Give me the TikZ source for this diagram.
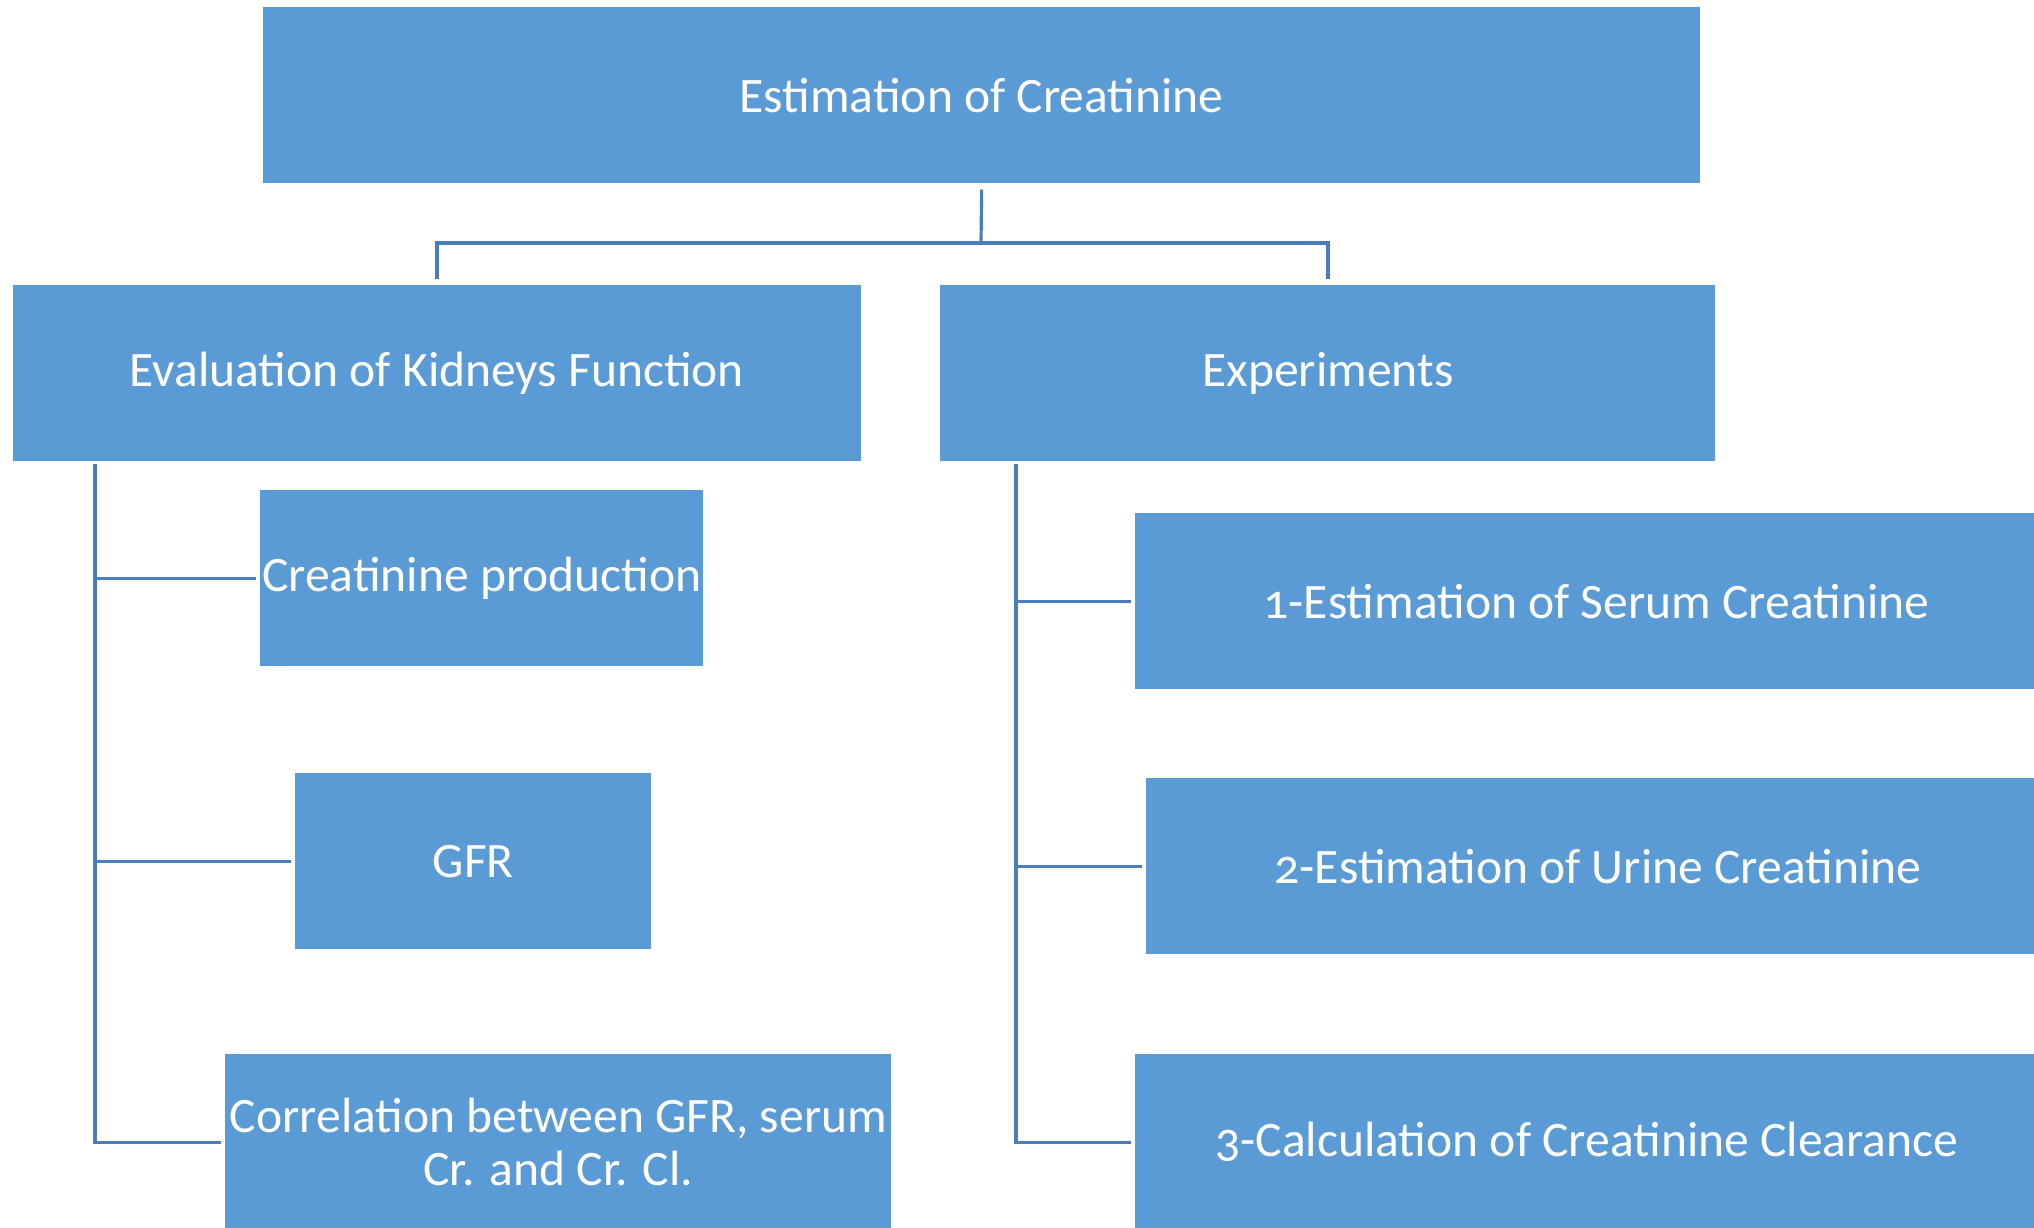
\documentclass[tikz,border=0pt]{standalone}
\usepackage{fontspec}
\setmainfont{Carlito}[Numbers=OldStyle]
\usetikzlibrary{positioning, calc}
\definecolor{boxblue}{HTML}{5B9BD5}
\definecolor{lineblue}{HTML}{4A7EBB}
\tikzset{
  topic/.style={
    rectangle,
    fill=boxblue,
    draw=white, line width=0.4pt,
    text=white,
    align=center,
    anchor=north west,
    minimum height=1.77cm,
    inner sep=0pt,
    font=\fontsize{14.1}{15}\selectfont
  },
  link/.style={
    draw=lineblue,
    line width=0.9pt
  }
}

\begin{document}
\begin{tikzpicture}[x=0.01cm, y=-0.01cm]
\clip (0,0) rectangle (2034,1227);
\fill[white] (0,0) rectangle (2034,1227);

% nodes
\node[topic, minimum width=14.37cm] (root) at (262,6) {Estimation of Creatinine};

\node[topic, minimum width=8.48cm] (eval) at (12,284) {Evaluation of Kidneys Function};
\node[topic, minimum width=7.76cm] (exper) at (939,284) {Experiments};

\node[topic, minimum width=4.44cm] (prod) at (259,489) {Creatinine production};
\node[topic, minimum width=3.57cm] (gfr) at (294,772) {GFR};
\node[topic, minimum width=6.67cm] (corr) at (224,1053) {Correlation between GFR, serum\\Cr. and Cr. Cl.};

\node[topic, minimum width=9.23cm] (serum) at (1134,512) {1-Estimation of Serum Creatinine};
\node[topic, minimum width=9.04cm] (urine) at (1145,777) {2-Estimation of Urine Creatinine};
\node[topic, minimum width=9.04cm] (clear) at (1134,1053) {3-Calculation of Creatinine Clearance};

% edges

%% root
\coordinate (hub) at (981,243);
\draw[link] ([yshift=-0.5mm]root.south) -- (hub);
\draw[link] ([yshift=0.5mm]eval.north) |- (hub) -| ([yshift=0.5mm]exper.north);

%% eval
\coordinate (ltrunk) at (95,464);
\draw[link] (ltrunk) |- ([xshift=-0.3mm]corr.west);
\draw[link] (ltrunk |- prod.west) -- ([xshift=-0.3mm]prod.west);
\draw[link] (ltrunk |- gfr.west) -- ([xshift=-0.3mm]gfr.west);

%% exper
\coordinate (rtrunk) at (1016,464);
\draw[link] (rtrunk) |- ([xshift=-0.3mm]clear.west);
\draw[link] (rtrunk |- serum.west) -- ([xshift=-0.3mm]serum.west);
\draw[link] (rtrunk |- urine.west) -- ([xshift=-0.3mm]urine.west);

\end{tikzpicture}
\end{document}
